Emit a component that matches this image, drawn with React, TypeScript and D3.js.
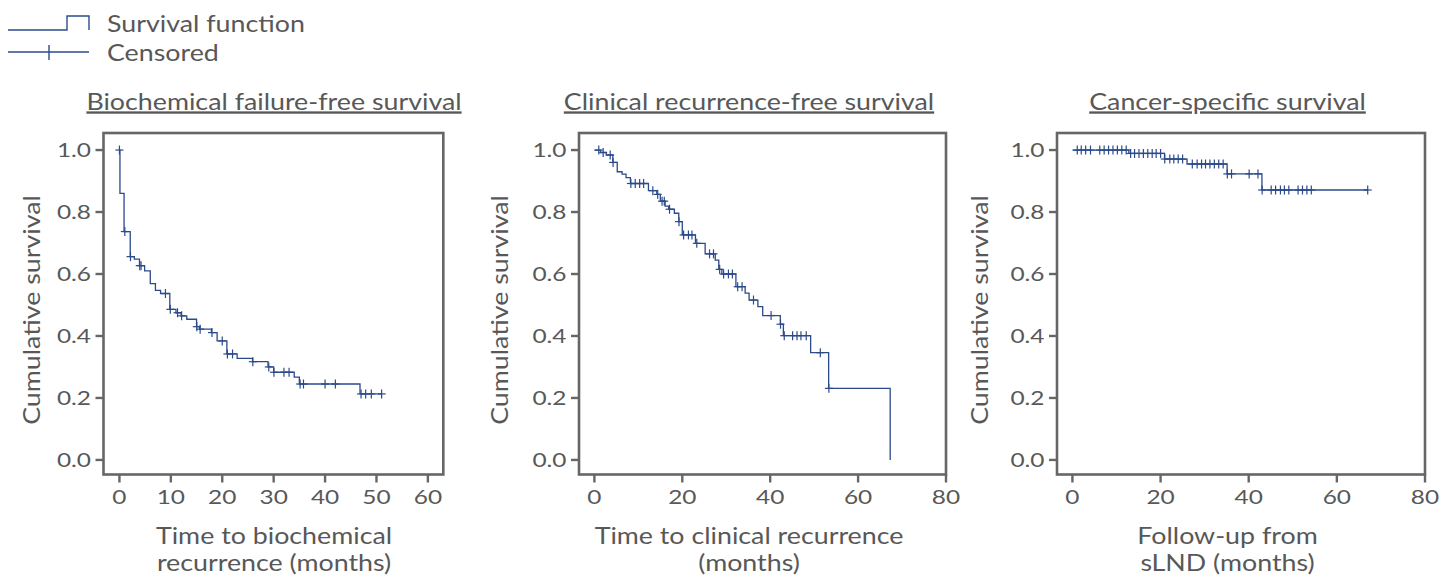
import React from 'react';
import * as d3 from 'd3';

// Biochemical failure-free survival
const bfTimes = [0, 0.1, 0.9, 2.1, 2.9, 3.9, 4.9, 6.0, 7.0, 8.0, 9.8, 11.0, 12.0, 13.1, 15.0, 15.6, 17.9, 19.0, 20.9, 22.9, 25.9, 28.9, 30.0, 34.0, 35.0, 46.8];
const bfSurv = [1, 0.86, 0.737, 0.656, 0.648, 0.627, 0.61, 0.569, 0.547, 0.537, 0.486, 0.475, 0.465, 0.454, 0.43, 0.422, 0.411, 0.384, 0.342, 0.328, 0.317, 0.3, 0.283, 0.267, 0.245, 0.213];
const bfEnd = 51;
const bfCensored = [0, 1.05, 2.15, 3.95, 4.2, 8.95, 9.9, 11.3, 12.1, 15.05, 15.7, 18.0, 20.0, 21.0, 22.0, 25.95, 29.05, 30.05, 32.0, 33.0, 35.15, 35.8, 40.0, 42.0, 47.0, 47.9, 49.0, 51.0];

// Clinical recurrence-free survival
const crTimes = [0, 1.4, 2.7, 4.2, 5.2, 6.3, 7.2, 8.2, 12.3, 14.2, 15.0, 16.1, 16.9, 18.2, 19.2, 20.0, 23.0, 25.2, 27.5, 28.3, 29.0, 32.2, 34.3, 35.2, 37.2, 38.3, 42.3, 43.0, 49.2, 53.3, 67.3];
const crSurv = [1, 0.992, 0.984, 0.96, 0.93, 0.922, 0.911, 0.892, 0.869, 0.857, 0.835, 0.819, 0.809, 0.796, 0.769, 0.726, 0.699, 0.665, 0.645, 0.615, 0.6, 0.559, 0.538, 0.516, 0.495, 0.466, 0.438, 0.401, 0.346, 0.231, 0];
const crEnd = 67.3;
const crCensored = [1.0, 2.0, 3.6, 4.25, 8.3, 9.3, 10.3, 11.2, 13.3, 14.4, 15.4, 15.9, 17.1, 19.25, 20.3, 21.4, 22.2, 23.3, 26.2, 27.1, 28.5, 29.4, 30.5, 31.4, 32.6, 33.6, 36.2, 40.2, 42.35, 43.2, 45.1, 46.1, 47.0, 48.2, 51.4, 53.35];

// Cancer-specific survival
const csTimes = [0, 12.8, 20.9, 26.0, 35.1, 43.0];
const csSurv = [1, 0.989, 0.971, 0.955, 0.923, 0.871];
const csEnd = 67.0;
const csCensored = [1.1, 2.0, 3.0, 4.1, 6.2, 7.2, 8.2, 9.2, 10.2, 11.2, 12.2, 13.2, 14.1, 15.1, 16.1, 17.1, 18.1, 19.0, 20.0, 20.95, 22.1, 23.0, 24.0, 25.0, 27.2, 28.3, 29.3, 30.2, 31.2, 32.2, 33.2, 34.2, 35.15, 36.1, 40.1, 42.1, 43.05, 45.1, 46.1, 47.2, 48.1, 49.1, 51.2, 52.2, 53.2, 54.2, 67.0];

const yTicks = [0, 0.2, 0.4, 0.6, 0.8, 1.0];
const xTicks60 = [0, 10, 20, 30, 40, 50, 60];
const xTicks80 = [0, 20, 40, 60, 80];

const FONT = "Lato, 'Open Sans', sans-serif";
const TEXT = '#585858';
const FRAME = '#666666';
const LINE = '#2b4a8a';
const LABEL_SIZE = 23.5;
const LABEL_SX = 1.14; // the original face is wider than Lato
const TICK_SIZE = 18.5;
const TICK_SX = 1.32;

const panels = [
  {
    title: 'Biochemical failure-free survival',
    xLabel: ['Time to biochemical', 'recurrence (months)'],
    times: bfTimes, surv: bfSurv, end: bfEnd, censored: bfCensored,
    domain: [-3.1, 63], range: [103.5, 443.3], ticks: xTicks60,
    center: 274, yLabelX: 32,
  },
  {
    title: 'Clinical recurrence-free survival',
    xLabel: ['Time to clinical recurrence', '(months)'],
    times: crTimes, surv: crSurv, end: crEnd, censored: crCensored,
    domain: [-3.5, 80], range: [579, 946], ticks: xTicks80,
    center: 749, yLabelX: 500,
  },
  {
    title: 'Cancer-specific survival',
    xLabel: ['Follow-up from', 'sLND (months)'],
    times: csTimes, surv: csSurv, end: csEnd, censored: csCensored,
    domain: [-3.5, 80], range: [1057, 1425], ticks: xTicks80,
    center: 1227.5, yLabelX: 980,
  },
];

const top = 133;
const bottom = 474.5;
const y = d3.scaleLinear().domain([-0.047, 1.055]).range([bottom, top]);

function T({ x, y, size, sx, anchor = 'start', rotate = 0, dy, underline, spacing, children }: any) {
  return (
    <text transform={`translate(${x},${y}) rotate(${rotate}) scale(${sx},1)`} textAnchor={anchor}
      dy={dy} fontSize={size} fill={TEXT} letterSpacing={spacing}
      style={underline ? { textDecoration: 'underline' } : undefined}>{children}</text>
  );
}

function Panel({ p }: { p: any }) {
  const x = d3.scaleLinear().domain(p.domain).range(p.range);
  const pts: [number, number][] = p.times.map((t: number, i: number) => [t, p.surv[i]]);
  pts.push([p.end, p.surv[p.surv.length - 1]]);
  const line = d3.line<[number, number]>()
    .x(d => x(d[0]))
    .y(d => y(d[1]))
    .curve(d3.curveStepAfter);
  const survAt = (t: number) => {
    const i = d3.bisectRight(p.times, t) - 1;
    return p.surv[Math.max(0, i)];
  };
  const left = p.range[0];
  const right = p.range[1];
  return (
    <g>
      <T x={p.center} y={109.5} size={LABEL_SIZE} sx={LABEL_SX} anchor="middle" underline>{p.title}</T>
      <rect x={left} y={top} width={right - left} height={bottom - top}
        fill="none" stroke={FRAME} strokeWidth={2.6} />
      {yTicks.map(v => (
        <g key={v}>
          <line x1={left - 8} x2={left} y1={y(v)} y2={y(v)} stroke={FRAME} strokeWidth={2.4} />
          <T x={left - 12.5} y={y(v)} dy="0.36em" anchor="end" size={TICK_SIZE} sx={TICK_SX}>
            {v.toFixed(1)}
          </T>
        </g>
      ))}
      {p.ticks.map((t: number) => (
        <g key={t}>
          <line x1={x(t)} x2={x(t)} y1={bottom} y2={bottom + 8} stroke={FRAME} strokeWidth={2.4} />
          <T x={x(t)} y={504} anchor="middle" size={TICK_SIZE} sx={TICK_SX}>{t}</T>
        </g>
      ))}
      <T x={p.yLabelX} y={310} rotate={-90} anchor="middle" dy="0.36em"
        size={LABEL_SIZE} sx={LABEL_SX}>Cumulative survival</T>
      {p.xLabel.map((s: string, i: number) => (
        <T key={i} x={p.center} y={544 + i * 26.5} anchor="middle" size={LABEL_SIZE} sx={LABEL_SX}>{s}</T>
      ))}
      <path d={line(pts) || ''} fill="none" stroke={LINE} strokeWidth={1.3} />
      {p.censored.map((t: number, i: number) => {
        const cx = x(t);
        const cy = y(survAt(t));
        return (
          <g key={i} stroke={LINE} strokeWidth={1.2}>
            <line x1={cx} x2={cx} y1={cy - 4.5} y2={cy + 4.5} />
            <line x1={cx - 4} x2={cx + 4} y1={cy} y2={cy} />
          </g>
        );
      })}
    </g>
  );
}

export default function App() {
  return (
    <svg width={1443} height={575} style={{ position: 'absolute', left: 0, top: 0, background: '#fff' }}
      fontFamily={FONT}>
      <g stroke={LINE} strokeWidth={1.4} fill="none">
        <path d="M8,30H67V16H89V30" />
        <path d="M8,52H89" />
        <path d="M49,45V60" />
      </g>
      <T x={107} y={32} size={LABEL_SIZE} sx={LABEL_SX}>Survival function</T>
      <T x={107} y={61} size={LABEL_SIZE} sx={LABEL_SX}>Censored</T>
      {panels.map((p, i) => <Panel key={i} p={p} />)}
    </svg>
  );
}
